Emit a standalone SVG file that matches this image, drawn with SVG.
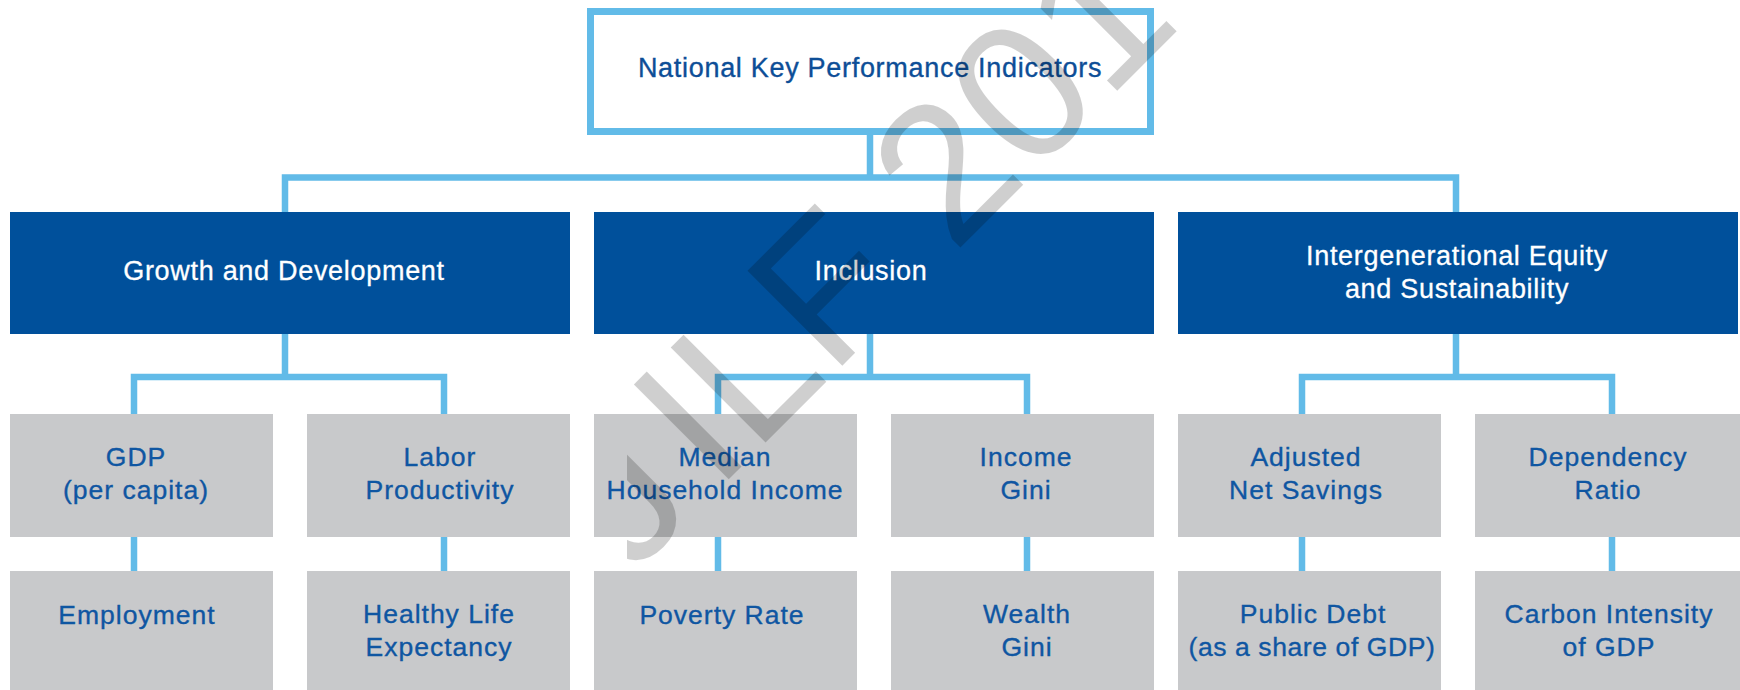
<svg xmlns="http://www.w3.org/2000/svg" width="1740" height="690" viewBox="0 0 1740 690">
<defs>
<style>
.conn{fill:none;stroke:#62BBE8;stroke-width:6.5;stroke-linejoin:miter}
.top{fill:#FFFFFF;stroke:#62BBE8;stroke-width:7}
.cat{fill:#00509B}
.leaf{fill:#C8C9CB}
.tt{font-family:"Liberation Sans",Arial,Helvetica,sans-serif;font-size:27px;letter-spacing:0.7px;text-anchor:middle;fill:#0D4E97;stroke:#0D4E97;stroke-width:0.35px}
.ct{font-family:"Liberation Sans",Arial,Helvetica,sans-serif;font-size:27px;letter-spacing:0.7px;text-anchor:middle;fill:#FFFFFF;stroke:#FFFFFF;stroke-width:0.3px}
.lt{font-family:"Liberation Sans",Arial,Helvetica,sans-serif;font-size:26.5px;letter-spacing:1px;text-anchor:middle;fill:#0F56A2;stroke:#0F56A2;stroke-width:0.35px}
.narrow{letter-spacing:0.6px}
.wm{font-family:"Liberation Sans",Arial,Helvetica,sans-serif;font-size:195px;fill:#000000;fill-opacity:0.19}
</style>
<clipPath id="wmclip"><rect x="627" y="0" width="1113" height="690"/></clipPath>
</defs>
<rect x="0" y="0" width="1740" height="690" fill="#FFFFFF"/>
<g id="connectors">
<path class="conn" d="M870,135 V177.5"/>
<path class="conn" d="M285,212 V177.5 H1456 V212"/>
<path class="conn" d="M285,334 V377 M134,414 V377 H444 V414"/>
<path class="conn" d="M870,334 V377 M718,414 V377 H1027 V414"/>
<path class="conn" d="M1456,334 V377 M1302,414 V377 H1612 V414"/>
<path class="conn" d="M134,537 V571 M444,537 V571 M718,537 V571 M1027,537 V571 M1302,537 V571 M1612,537 V571"/>
</g>
<g id="root">
<rect class="top" x="590.5" y="11.5" width="560" height="120"/>
<text class="tt" x="870" y="77">National Key Performance Indicators</text>
</g>
<g id="growth">
<rect class="cat" x="10" y="212" width="560" height="122"/>
<text class="ct" x="284" y="280">Growth and Development</text>
</g>
<g id="inclusion">
<rect class="cat" x="594" y="212" width="560" height="122"/>
<text class="ct" x="871" y="280">Inclusion</text>
</g>
<g id="intergen">
<rect class="cat" x="1178" y="212" width="560" height="122"/>
<text class="ct" x="1457" y="265">Intergenerational Equity</text>
<text class="ct" x="1457" y="298">and Sustainability</text>
</g>
<g id="gdp">
<rect class="leaf" x="10" y="414" width="263" height="123"/>
<text class="lt" x="136" y="466">GDP</text>
<text class="lt" x="136" y="499">(per capita)</text>
</g>
<g id="labor">
<rect class="leaf" x="307" y="414" width="263" height="123"/>
<text class="lt" x="440" y="466">Labor</text>
<text class="lt" x="440" y="499">Productivity</text>
</g>
<g id="median">
<rect class="leaf" x="594" y="414" width="263" height="123"/>
<text class="lt" x="725" y="466">Median</text>
<text class="lt" x="725" y="499">Household Income</text>
</g>
<g id="incomegini">
<rect class="leaf" x="891" y="414" width="263" height="123"/>
<text class="lt" x="1026" y="466">Income</text>
<text class="lt" x="1026" y="499">Gini</text>
</g>
<g id="adjusted">
<rect class="leaf" x="1178" y="414" width="263" height="123"/>
<text class="lt" x="1306" y="466">Adjusted</text>
<text class="lt" x="1306" y="499">Net Savings</text>
</g>
<g id="dependency">
<rect class="leaf" x="1475" y="414" width="265" height="123"/>
<text class="lt" x="1608" y="466">Dependency</text>
<text class="lt" x="1608" y="499">Ratio</text>
</g>
<g id="employment">
<rect class="leaf" x="10" y="571" width="263" height="125"/>
<text class="lt" x="137" y="624">Employment</text>
</g>
<g id="healthy">
<rect class="leaf" x="307" y="571" width="263" height="125"/>
<text class="lt" x="439" y="623">Healthy Life</text>
<text class="lt" x="439" y="656">Expectancy</text>
</g>
<g id="poverty">
<rect class="leaf" x="594" y="571" width="263" height="125"/>
<text class="lt" x="722" y="624">Poverty Rate</text>
</g>
<g id="wealth">
<rect class="leaf" x="891" y="571" width="263" height="125"/>
<text class="lt" x="1027" y="623">Wealth</text>
<text class="lt" x="1027" y="656">Gini</text>
</g>
<g id="publicdebt">
<rect class="leaf" x="1178" y="571" width="263" height="125"/>
<text class="lt" x="1313" y="623">Public Debt</text>
<text class="lt narrow" x="1312" y="656">(as a share of GDP)</text>
</g>
<g id="carbon">
<rect class="leaf" x="1475" y="571" width="265" height="125"/>
<text class="lt" x="1609" y="623">Carbon Intensity</text>
<text class="lt" x="1609" y="656">of GDP</text>
</g>
<g id="watermark" clip-path="url(#wmclip)">
<text class="wm" transform="translate(647,561) rotate(-45)"><tspan x="-22">J</tspan><tspan x="97.5">ILF 2017</tspan></text>
</g>
</svg>
